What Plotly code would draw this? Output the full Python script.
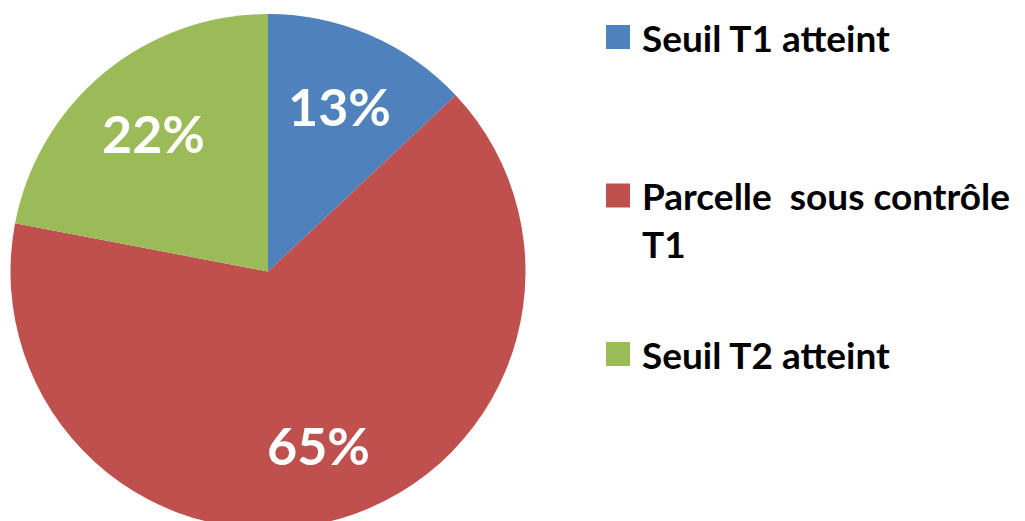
import math
import plotly.graph_objects as go

labels = ["Seuil T1 atteint", "Parcelle  sous contrôle T1", "Seuil T2 atteint"]
legend_text = ["Seuil T1 atteint", "Parcelle  sous contrôle<br>T1", "Seuil T2 atteint"]
values = [13, 65, 22]
colors = ["#4F81BD", "#C0504D", "#9BBB59"]

W, H = 1025, 521
M_TOP = 6
PH = H - M_TOP  # plot height in px
LABEL_FONT = "Lato, Carlito, Calibri, sans-serif"
LEGEND_FONT = "Lato, Carlito, Calibri, sans-serif"

# pie geometry (px, figure coords)
CX = 260.0
R = PH / 2.0
CY = M_TOP + R

def px_to_paper(x, y):
    return x / W, 1 - (y - M_TOP) / PH

fig = go.Figure()
fig.add_trace(go.Pie(
    labels=labels,
    values=values,
    sort=False,
    direction="clockwise",
    rotation=0,
    marker=dict(colors=colors, line=dict(width=0)),
    textinfo="none",
    domain=dict(x=[(CX - R) / W, (CX + R) / W], y=[0, 1]),
    showlegend=False,
    hoverinfo="label+percent",
))

# percentage labels placed at the mid-angle of each slice
total = sum(values)
cum = 0.0
for v in values:
    mid = (cum + v / 2) / total * 2 * math.pi
    cum += v
    x = CX + 0.70 * R * math.sin(mid)
    y = CY - 0.70 * R * math.cos(mid)
    xp, yp = px_to_paper(x, y)
    fig.add_annotation(
        xref="paper", yref="paper", x=xp, y=yp,
        xanchor="center", yanchor="middle",
        text=f"{round(v / total * 100)}%", showarrow=False,
        font=dict(family=LABEL_FONT, size=52, color="white", weight="bold"),
    )

# manual legend
LEG_SIZE = 37
LINE_H = 1.3 * LEG_SIZE
legend_y = [29, 187.5, 346]
for txt, col, yc in zip(legend_text, colors, legend_y):
    x0p, y0p = px_to_paper(598, yc + 12)
    x1p, y1p = px_to_paper(622, yc - 12)
    fig.add_shape(
        type="rect", xref="paper", yref="paper",
        x0=x0p, x1=x1p, y0=y0p, y1=y1p,
        fillcolor=col, line=dict(width=0),
    )
    n_lines = txt.count("<br>") + 1
    xp, yp = px_to_paper(632, yc + (n_lines - 1) * LINE_H / 2)
    fig.add_annotation(
        xref="paper", yref="paper", x=xp, y=yp,
        xanchor="left", yanchor="middle",
        text=txt, showarrow=False, align="left",
        font=dict(family=LEGEND_FONT, size=LEG_SIZE, color="black", weight="bold"),
    )

fig.update_layout(
    width=W, height=H,
    margin=dict(l=0, r=0, t=M_TOP, b=0),
    paper_bgcolor="white",
    plot_bgcolor="white",
)

fig.write_html("out.html")
